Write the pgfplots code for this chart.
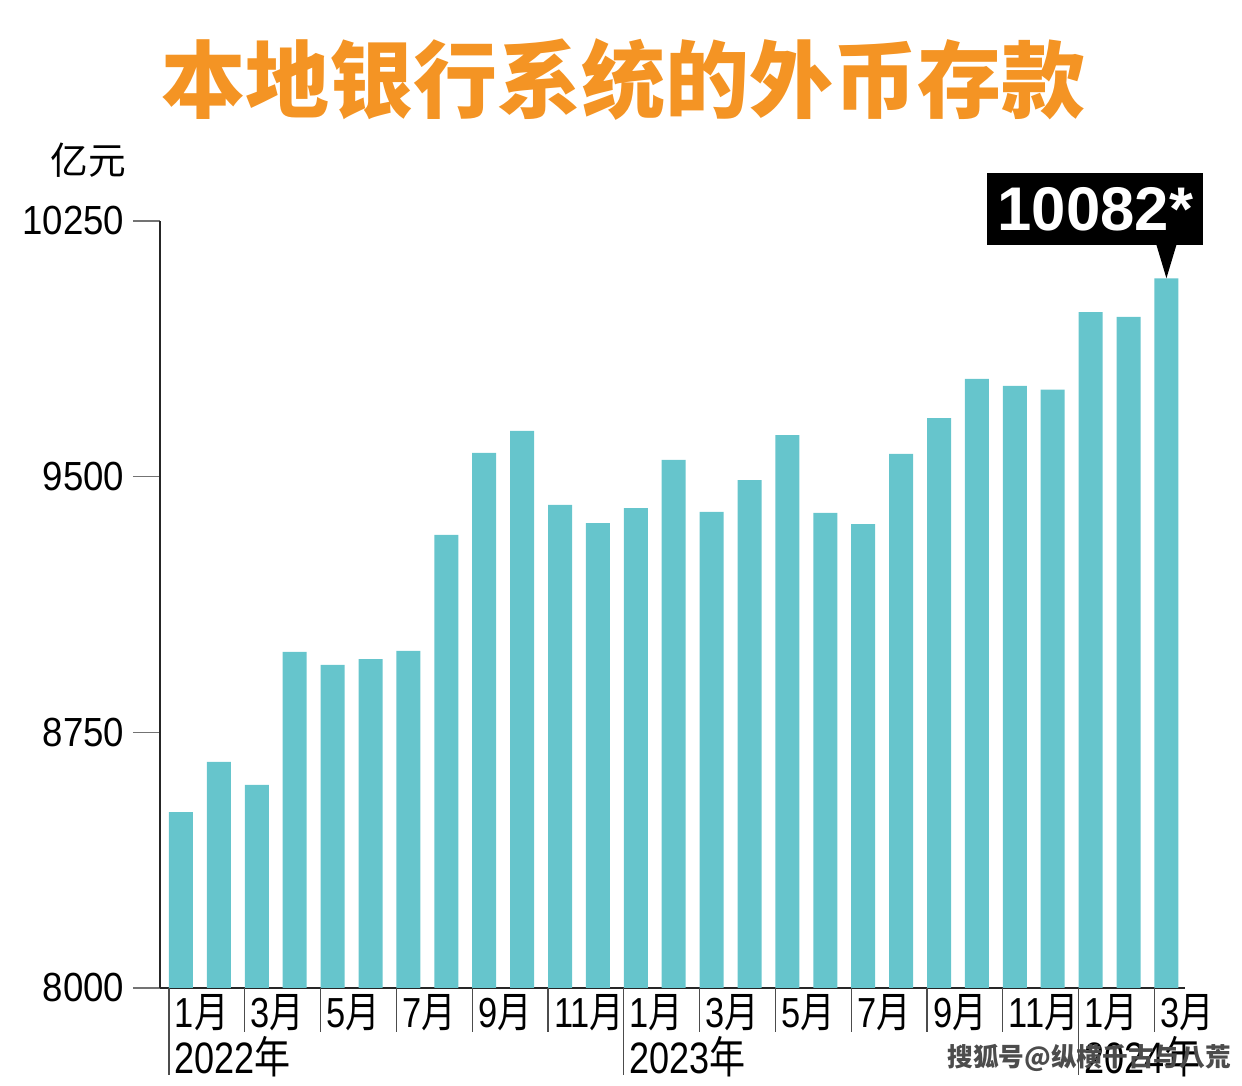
\documentclass[border=0pt]{standalone}
\usepackage{fontspec}
\usepackage{pgfplots}
\pgfplotsset{compat=1.18}
\setmainfont{Liberation Sans}
\newfontfamily\cjk{Noto Sans CJK SC}
\newfontfamily\cond[FakeStretch=0.82]{Liberation Sans}
\newfontfamily\condt[FakeStretch=0.9]{Liberation Sans}
\newfontfamily\cjkcond[FakeStretch=0.82]{Noto Sans CJK SC}
\definecolor{bar}{RGB}{102,197,204}
\definecolor{ttl}{RGB}{244,148,36}
\pgfplotstableread{
x y
0 8516
1 8663
2 8596
3 8986
4 8948
5 8965
6 8989
7 9329
8 9570
9 9634
10 9417
11 9364
12 9408
13 9549
14 9397
15 9490
16 9622
17 9394
18 9361
19 9567
20 9672
21 9787
22 9766
23 9755
24 9983
25 9969
26 10082
}\data
\begin{document}
\begin{tikzpicture}
\path[use as bounding box] (0,0) rectangle (372.6pt,-325.8pt);
\begin{axis}[
  at={(48pt,-296.4pt)}, anchor=south west,
  scale only axis, width=307.5pt, height=230.1pt,
  xmin=-0.554, xmax=26.49, ymin=8000, ymax=10250,
  axis x line*=bottom, axis y line*=left,
  axis line style={black!85, line width=0.6pt},
  xtick=\empty,
  ytick={8000,8750,9500,10250},
  scaled y ticks=false,
  tick align=outside,
  major tick length=8.1pt,
  ytick style={black!55, line width=0.45pt},
  yticklabel style={font=\fontsize{12.2}{12}\selectfont\condt, anchor=east, inner sep=0pt, xshift=-2.4pt},
  /pgf/number format/assume math mode=true,
  yticklabel={\pgfmathprintnumber[fixed,1000 sep={}]{\tick}},
  clip=false,
]
\addplot[ybar, bar width=7.2pt, fill=bar, draw=none] table[x=x,y=y] {\data};
% separators
\pgfplotsinvokeforeach{2,4,6,8,10,14,16,18,20,22,26}{
  \draw[black!70, line width=0.4pt] (axis cs:#1-0.317,8000) -- ([yshift=-13.2pt]axis cs:#1-0.317,8000);
}
\pgfplotsinvokeforeach{0,12,24}{
  \draw[black!70, line width=0.4pt] (axis cs:#1-0.317,8000) -- ([yshift=-26.2pt]axis cs:#1-0.317,8000);
}
% month labels
\pgfplotsinvokeforeach{0,2,4,6,8,10,12,14,16,18,20,22,24,26}{
  \node[anchor=west, inner sep=0pt, font=\fontsize{12.6}{13}\selectfont\cond] at ([yshift=-7.5pt]axis cs:#1-0.317,8000) {\hspace{1.6pt}\pgfmathtruncatemacro\mm{mod(#1,12)+1}\mm{\cjkcond 月}};
}
\pgfplotsinvokeforeach{0,12,24}{
  \node[anchor=west, inner sep=0pt, font=\fontsize{13.2}{13}\selectfont\cond] at ([yshift=-20.7pt]axis cs:#1-0.317,8000) {\hspace{1.5pt}\pgfmathtruncatemacro\yy{2022+#1/12}\yy{\cjkcond 年}};
}
% callout
\fill[black] (axis cs:26,10082) -- ([xshift=-3pt,yshift=10pt]axis cs:26,10082) -- ([xshift=3pt,yshift=10pt]axis cs:26,10082) -- cycle;
\node[fill=black, text=white, minimum width=64.8pt, minimum height=21.6pt, inner sep=0pt,
      font=\fontsize{18.5}{18}\selectfont\bfseries, anchor=south]
  at ([xshift=-21.3pt,yshift=9.8pt]axis cs:26,10082) {10082*};
\end{axis}
% title and unit
\node[text=ttl, font=\fontsize{25.2}{25}\selectfont\cjk\bfseries] at (187pt,-24pt) {本地银行系统的外币存款};
\node[font=\fontsize{11.3}{11}\selectfont\cjk] at (26.4pt,-48pt) {亿元};
% watermark
\node[text=black!70, font=\fontsize{7.7}{8}\selectfont\cjk\bfseries, anchor=west, inner sep=0pt] at (284pt,-317.4pt) {搜狐号@纵横千古与八荒};
\end{tikzpicture}
\end{document}
